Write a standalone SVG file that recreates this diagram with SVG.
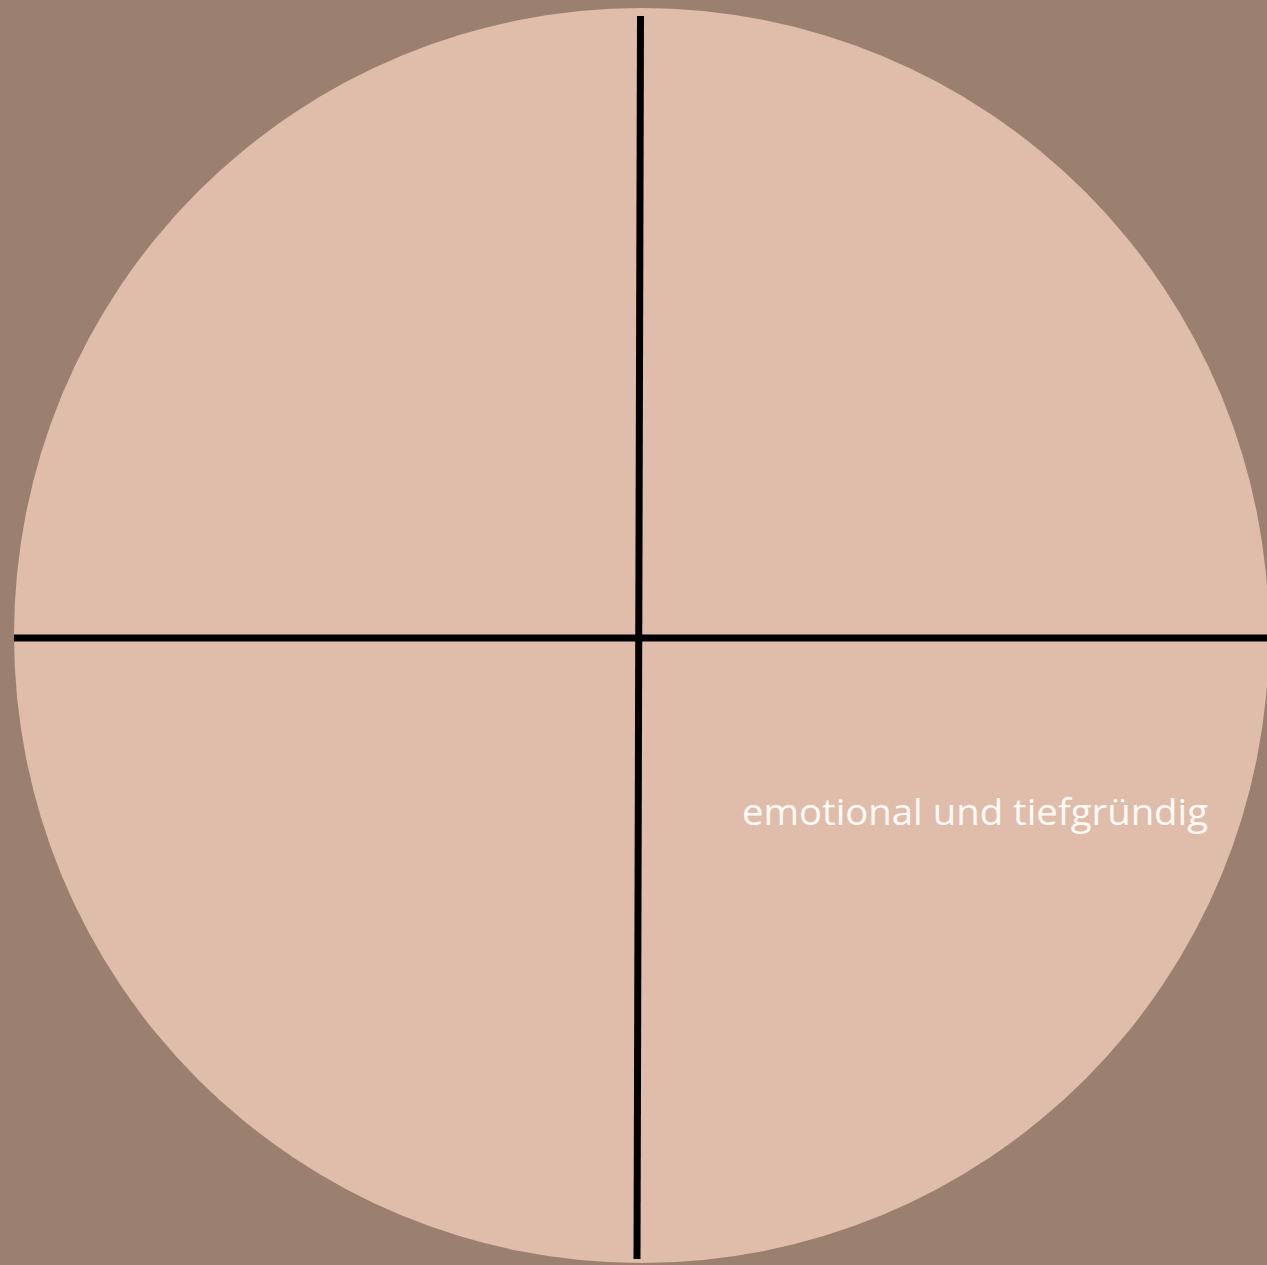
<svg xmlns="http://www.w3.org/2000/svg" width="1267" height="1265" viewBox="0 0 1267 1265">
<style>
.axis{stroke:#000;stroke-width:7;fill:none}
.lbl{font-family:"Open Sans","Noto Sans",sans-serif;font-size:37px;fill:#fffaf5}
</style>
<rect x="0" y="0" width="1267" height="1265" fill="#9c806f"/>
<g id="circle"><circle cx="641.5" cy="635.5" r="627.5" fill="#e0bdab"/></g>
<g id="connectors">
<line class="axis" x1="640.5" y1="16" x2="637" y2="1259"/>
<line class="axis" x1="14" y1="638" x2="1267" y2="638"/>
</g>
<g id="label"><text class="lbl" x="742" y="825" textLength="466" lengthAdjust="spacingAndGlyphs">emotional und tiefgründig</text></g>
</svg>
